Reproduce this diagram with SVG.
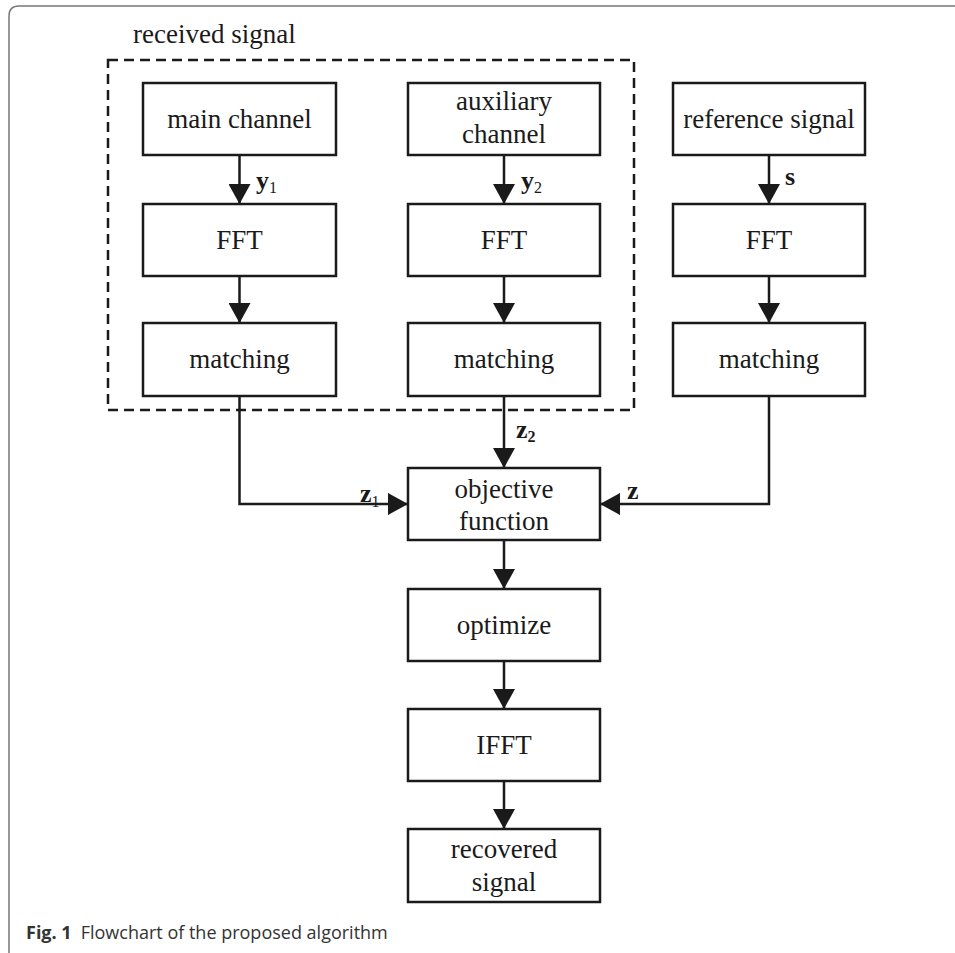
<svg xmlns="http://www.w3.org/2000/svg" width="955" height="953" viewBox="0 0 955 953">
<style>
.box{fill:#fff;stroke:#1a1a1a;stroke-width:2.5}
.t{font-family:"Liberation Serif","Times New Roman",serif;font-size:27px;fill:#1a1a1a;text-anchor:middle}
.lb{font-family:"Liberation Serif","Times New Roman",serif;font-size:26px;font-weight:bold;fill:#1a1a1a}
.sub{font-family:"Liberation Serif","Times New Roman",serif;font-size:16px;fill:#1a1a1a}
.c{fill:none;stroke:#1a1a1a;stroke-width:2.5}
</style>
<defs>
<marker id="ah" viewBox="0 0 20 22" refX="20" refY="11" markerWidth="20" markerHeight="22" markerUnits="userSpaceOnUse" orient="auto">
<path d="M0,0 L20,11 L0,22 z" fill="#1a1a1a"/>
</marker>
</defs>
<rect x="0" y="0" width="955" height="953" fill="#fff"/>
<path d="M9,970 V16 Q9,6 19,6 H970" fill="none" stroke="#777" stroke-width="1.5"/>
<g id="group-received">
<text x="133" y="43" font-family="'Liberation Serif','Times New Roman',serif" font-size="27" fill="#1a1a1a">received signal</text>
<rect x="108" y="60" width="526" height="350" fill="none" stroke="#1a1a1a" stroke-width="2.5" stroke-dasharray="10,6"/>
</g>
<g id="connectors">
<line class="c" x1="239.5" y1="155" x2="239.5" y2="204" marker-end="url(#ah)"/>
<line class="c" x1="239.5" y1="276" x2="239.5" y2="323" marker-end="url(#ah)"/>
<line class="c" x1="504" y1="155" x2="504" y2="204" marker-end="url(#ah)"/>
<line class="c" x1="504" y1="276" x2="504" y2="323" marker-end="url(#ah)"/>
<line class="c" x1="769" y1="155" x2="769" y2="204" marker-end="url(#ah)"/>
<line class="c" x1="769" y1="276" x2="769" y2="323" marker-end="url(#ah)"/>
<path class="c" d="M239.5,396 V504 H408" marker-end="url(#ah)"/>
<line class="c" x1="504" y1="396" x2="504" y2="468" marker-end="url(#ah)"/>
<path class="c" d="M769,396 V504 H600" marker-end="url(#ah)"/>
<line class="c" x1="504" y1="540" x2="504" y2="589" marker-end="url(#ah)"/>
<line class="c" x1="504" y1="661" x2="504" y2="709" marker-end="url(#ah)"/>
<line class="c" x1="504" y1="781" x2="504" y2="829" marker-end="url(#ah)"/>
<text class="lb" x="256" y="189">y<tspan class="sub" font-weight="normal" dy="4">1</tspan></text>
<text class="lb" x="521" y="189">y<tspan class="sub" font-weight="normal" dy="4">2</tspan></text>
<text class="lb" x="785" y="185">s</text>
<text class="lb" x="516" y="438">z<tspan class="sub" font-weight="bold" dy="4">2</tspan></text>
<text class="lb" x="360" y="502">z<tspan class="sub" font-weight="normal" dy="5">1</tspan></text>
<text class="lb" x="627" y="499">z</text>
</g>
<g id="main-channel"><rect class="box" x="143" y="83" width="193" height="72"/><text class="t" x="239.5" y="128">main channel</text></g>
<g id="aux-channel"><rect class="box" x="408" y="83" width="192" height="72"/><text class="t" x="504" y="110">auxiliary</text><text class="t" x="504" y="143">channel</text></g>
<g id="reference-signal"><rect class="box" x="673" y="83" width="192" height="72"/><text class="t" x="769" y="128">reference signal</text></g>
<g id="fft1"><rect class="box" x="143" y="204" width="193" height="72"/><text class="t" x="239.5" y="249">FFT</text></g>
<g id="fft2"><rect class="box" x="408" y="204" width="192" height="72"/><text class="t" x="504" y="249">FFT</text></g>
<g id="fft3"><rect class="box" x="673" y="204" width="192" height="72"/><text class="t" x="769" y="249">FFT</text></g>
<g id="matching1"><rect class="box" x="143" y="323" width="193" height="73"/><text class="t" x="239.5" y="368">matching</text></g>
<g id="matching2"><rect class="box" x="408" y="323" width="192" height="73"/><text class="t" x="504" y="368">matching</text></g>
<g id="matching3"><rect class="box" x="673" y="323" width="192" height="73"/><text class="t" x="769" y="368">matching</text></g>
<g id="objective"><rect class="box" x="408" y="468" width="192" height="72"/><text class="t" x="504" y="498">objective</text><text class="t" x="504" y="530">function</text></g>
<g id="optimize"><rect class="box" x="408" y="589" width="192" height="72"/><text class="t" x="504" y="634">optimize</text></g>
<g id="ifft"><rect class="box" x="408" y="709" width="192" height="72"/><text class="t" x="504" y="754">IFFT</text></g>
<g id="recovered"><rect class="box" x="408" y="829" width="192" height="73"/><text class="t" x="504" y="858">recovered</text><text class="t" x="504" y="891">signal</text></g>
<g id="caption">
<text x="26" y="939" font-family="'Open Sans','Noto Sans',sans-serif" font-size="18" fill="#333"><tspan font-weight="bold">Fig. 1</tspan><tspan dx="9">Flowchart of the proposed algorithm</tspan></text>
</g>
</svg>
